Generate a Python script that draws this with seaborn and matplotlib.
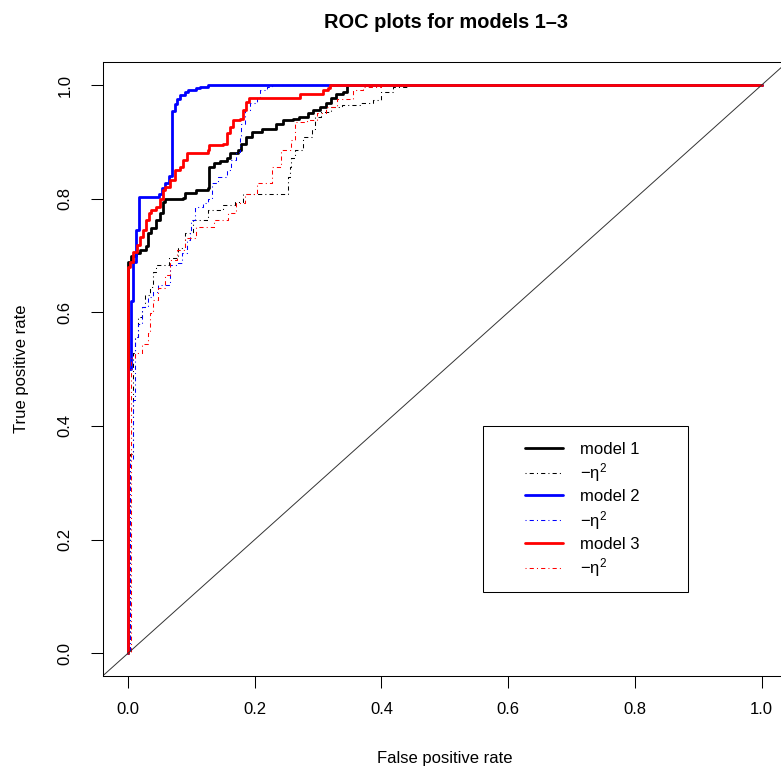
import matplotlib
matplotlib.use("Agg")
import matplotlib.pyplot as plt
import seaborn as sns
from matplotlib.patches import Rectangle

# ROC points: (fpr where the curve rises, tpr after the rise)
fpr_m1 = [0, 0, 0.005, 0.013, 0.019, 0.029, 0.032, 0.037, 0.045, 0.050, 0.056, 0.058, 0.087, 0.090,
          0.108, 0.127, 0.128, 0.135, 0.145, 0.156, 0.161, 0.174, 0.179, 0.187, 0.195, 0.211, 0.234,
          0.245, 0.261, 0.270, 0.284, 0.292, 0.303, 0.313, 0.321, 0.329, 0.339, 0.346, 1.0]
tpr_m1 = [0, 0.688, 0.700, 0.705, 0.710, 0.716, 0.739, 0.748, 0.762, 0.774, 0.795, 0.800, 0.802, 0.810,
          0.815, 0.818, 0.856, 0.862, 0.866, 0.871, 0.880, 0.886, 0.897, 0.909, 0.918, 0.922, 0.932,
          0.938, 0.941, 0.944, 0.950, 0.956, 0.962, 0.968, 0.977, 0.985, 0.988, 1.0, 1.0]

fpr_m1e = [0, 0.003, 0.008, 0.011, 0.016, 0.022, 0.027, 0.035, 0.040, 0.045, 0.064, 0.079, 0.090,
           0.103, 0.127, 0.150, 0.169, 0.182, 0.252, 0.256, 0.258, 0.263, 0.276, 0.290, 0.295, 0.305,
           0.321, 0.337, 0.366, 0.387, 0.400, 0.418, 0.440, 1.0]
tpr_m1e = [0, 0.350, 0.528, 0.557, 0.592, 0.610, 0.630, 0.645, 0.671, 0.683, 0.695, 0.713, 0.740,
           0.762, 0.780, 0.789, 0.795, 0.809, 0.839, 0.856, 0.871, 0.886, 0.909, 0.923, 0.944, 0.953,
           0.962, 0.965, 0.968, 0.974, 0.988, 0.996, 1.0, 1.0]

fpr_m2 = [0, 0, 0.005, 0.008, 0.013, 0.018, 0.049, 0.053, 0.058, 0.065, 0.069, 0.070, 0.074, 0.077,
          0.082, 0.090, 0.095, 0.108, 0.114, 0.127, 1.0]
tpr_m2 = [0, 0.50, 0.62, 0.688, 0.745, 0.803, 0.808, 0.818, 0.828, 0.840, 0.849, 0.955, 0.967, 0.975,
          0.982, 0.988, 0.991, 0.994, 0.997, 1.0, 1.0]

fpr_m2e = [0, 0.003, 0.008, 0.011, 0.016, 0.022, 0.032, 0.040, 0.048, 0.066, 0.079, 0.085, 0.093,
           0.098, 0.100, 0.106, 0.119, 0.127, 0.132, 0.142, 0.156, 0.163, 0.171, 0.177, 0.179, 0.185,
           0.192, 0.203, 0.208, 0.219, 0.227, 1.0]
tpr_m2e = [0, 0.340, 0.445, 0.557, 0.580, 0.610, 0.627, 0.636, 0.648, 0.683, 0.686, 0.704, 0.727,
           0.742, 0.762, 0.786, 0.792, 0.800, 0.827, 0.839, 0.850, 0.868, 0.883, 0.909, 0.932, 0.956,
           0.968, 0.979, 0.991, 0.997, 1.0, 1.0]

fpr_m3 = [0, 0, 0.003, 0.008, 0.014, 0.019, 0.024, 0.029, 0.033, 0.037, 0.045, 0.050, 0.056, 0.058,
          0.066, 0.074, 0.082, 0.087, 0.093, 0.127, 0.128, 0.150, 0.156, 0.161, 0.166, 0.177, 0.182,
          0.187, 0.191, 0.271, 0.308, 0.315, 0.319, 1.0]
tpr_m3 = [0, 0.680, 0.689, 0.707, 0.718, 0.733, 0.745, 0.762, 0.774, 0.780, 0.786, 0.800, 0.815, 0.821,
          0.833, 0.850, 0.856, 0.868, 0.880, 0.886, 0.894, 0.897, 0.915, 0.927, 0.938, 0.941, 0.956,
          0.971, 0.977, 0.985, 0.991, 0.995, 1.0, 1.0]

fpr_m3e = [0, 0.005, 0.011, 0.022, 0.032, 0.035, 0.040, 0.048, 0.058, 0.066, 0.077, 0.090, 0.108,
           0.135, 0.158, 0.171, 0.185, 0.203, 0.227, 0.242, 0.258, 0.263, 0.282, 0.298, 0.313, 0.330,
           0.355, 0.371, 0.400, 1.0]
tpr_m3e = [0, 0.520, 0.528, 0.545, 0.563, 0.598, 0.621, 0.642, 0.665, 0.692, 0.709, 0.730, 0.750,
           0.762, 0.774, 0.792, 0.809, 0.827, 0.856, 0.886, 0.903, 0.935, 0.938, 0.950, 0.962, 0.975,
           0.991, 0.996, 1.0, 1.0]

eta_lab = r"$\mathregular{-\eta^2}$"
labels = ["model 1", eta_lab, "model 2", eta_lab, "model 3", eta_lab]
ticks = [0.0, 0.2, 0.4, 0.6, 0.8, 1.0]

sns.set_style("ticks")
plt.rcParams['font.family'] = ['Liberation Sans', 'DejaVu Sans']
plt.rcParams['font.size'] = 12
plt.rcParams['text.color'] = 'black'
plt.rcParams['axes.labelcolor'] = 'black'
plt.rcParams['mathtext.fontset'] = 'custom'
plt.rcParams['mathtext.rm'] = 'Liberation Sans'
plt.rcParams['mathtext.it'] = 'Liberation Sans:italic'

fig = plt.figure(figsize=(7.81, 7.74), dpi=100)
ax = fig.add_axes([0.1314, 0.1266, 0.8763, 0.7929])

dotdash = (0, (1, 3, 4, 3))
series = [
    (fpr_m1, tpr_m1, "black", 2.0, "-"),
    (fpr_m1e, tpr_m1e, "black", 0.75, dotdash),
    (fpr_m2, tpr_m2, "blue", 2.0, "-"),
    (fpr_m2e, tpr_m2e, "blue", 0.75, dotdash),
    (fpr_m3, tpr_m3, "red", 2.0, "-"),
    (fpr_m3e, tpr_m3e, "red", 0.75, dotdash),
]
for (fx, ty, col, lw, ls), lab in zip(series, labels):
    sns.lineplot(x=fx, y=ty, ax=ax, color=col, lw=lw, linestyle=ls, label=lab,
                 drawstyle="steps-post", estimator=None, sort=False)

# chance diagonal
ax.axline((0, 0), slope=1, color="#333333", lw=0.7)

ax.set_xlim(-0.04, 1.04)
ax.set_ylim(-0.04, 1.04)
ax.set_xticks(ticks)
ax.set_yticks(ticks)
ax.set_xticklabels([f"{t:.1f}" for t in ticks])
ax.set_yticklabels([f"{t:.1f}" for t in ticks], rotation=90, va="center")
ax.tick_params(axis="both", direction="out", length=8.5, width=0.75, color="black",
               labelsize=12, labelcolor="black")
ax.tick_params(axis="x", pad=10)
ax.tick_params(axis="y", pad=13)
for sp in ax.spines.values():
    sp.set_visible(True)
    sp.set_color("black")
    sp.set_linewidth(0.75)

ax.set_xlabel("False positive rate", fontsize=12, va="center")
ax.set_ylabel("True positive rate", fontsize=12, va="center")
ax.xaxis.set_label_coords(0.5, -0.135)
ax.yaxis.set_label_coords(-0.119, 0.5)

fig.text(446 / 781, 1 - 28 / 774, "ROC plots for models 1\u20133", ha="center", va="baseline",
         fontsize=14.4, fontweight="bold", color="black")

leg = ax.legend(loc="upper left", bbox_to_anchor=(0.617, 0.382), frameon=False,
                borderaxespad=0, borderpad=0, handlelength=2.3, handletextpad=1.0,
                labelspacing=0.29, fontsize=12)
ax.add_patch(Rectangle((0.556, 0.1369), 0.2995, 0.2705, transform=ax.transAxes,
                       fill=False, edgecolor="black", lw=0.75, zorder=5))

fig.savefig("out.png", dpi=100)
